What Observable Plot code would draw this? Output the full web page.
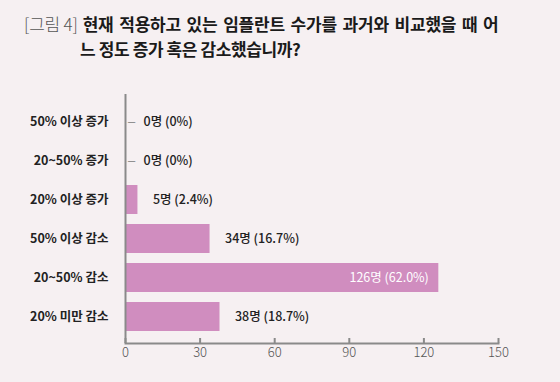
<!DOCTYPE html>
<html><head><meta charset="utf-8">
<script src="https://cdn.jsdelivr.net/npm/d3@7"></script>
<script src="https://cdn.jsdelivr.net/npm/@observablehq/plot@0.6"></script>
<style>
html,body{margin:0;padding:0;background:#f6f0f2;width:560px;height:382px;overflow:hidden;font-family:"Noto Sans CJK KR",sans-serif;}
#title{position:relative;height:70px;}
#t1{position:absolute;left:24px;top:11px;font-size:17px;font-weight:700;color:#1a1a1a;letter-spacing:-0.2px;word-spacing:2px;white-space:nowrap;}
#t1 .fig{font-weight:300;color:#555;margin-right:5px;word-spacing:0;}
#t2{position:absolute;left:80px;top:36px;font-size:17px;font-weight:700;color:#1a1a1a;letter-spacing:-0.4px;white-space:nowrap;}
</style></head>
<body>
<div id="title"><div id="t1"><span class="fig">[그림 4]</span>현재 적용하고 있는 임플란트 수가를 과거와 비교했을 때 어</div><div id="t2">느 정도 증가 혹은 감소했습니까?</div></div>
<div id="chart"></div>
<script>
const categories = ["50% 이상 증가","20~50% 증가","20% 이상 증가","50% 이상 감소","20~50% 감소","20% 미만 감소"];
const counts = [0, 0, 5, 34, 126, 38];
const percents = ["0%","0%","2.4%","16.7%","62.0%","18.7%"];
const xTicks = [0, 30, 60, 90, 120, 150];

const data = categories.map((c,i)=>({cat:c, v:counts[i], label:`${counts[i]}명 (${percents[i]})`}));
const zero = data.filter(d=>d.v===0);
const outside = data.filter(d=>d.v>0 && d.v<100);
const inside = data.filter(d=>d.v>=100);

const chart = Plot.plot({
  width:560, height:312,
  marginLeft:125, marginRight:62, marginTop:24, marginBottom:39,
  style:{background:"transparent", fontFamily:"Noto Sans CJK KR, sans-serif"},
  x:{domain:[0,150]},
  y:{domain:categories, padding:0.26},
  marks:[
    Plot.barX(data,{y:"cat", x:"v", fill:"#d08dbf"}),
    Plot.frame({anchor:"bottom", stroke:"#8a8a8a", strokeWidth:2}),
    Plot.ruleX([0],{stroke:"#8a8a8a", strokeWidth:2}),
    Plot.axisY({tickSize:0, tickPadding:17, fontSize:12.5, fontWeight:600, fill:"#222", label:null}),
    Plot.axisX({ticks:xTicks, tickSize:-5, tickPadding:9, fontSize:13, fill:"#555", fontWeight:300, stroke:"#8a8a8a", strokeWidth:2, label:null}),
    Plot.text(zero,{y:"cat", x:0, text:()=>"—", dx:6, fill:"#8a8a8a", fontSize:9, fontWeight:700}),
    Plot.text(zero,{y:"cat", x:"v", text:"label", dx:18, textAnchor:"start", fontSize:12.5, fontWeight:500, fill:"#222"}),
    Plot.text(outside,{y:"cat", x:"v", text:"label", dx:15, textAnchor:"start", fontSize:12.5, fontWeight:500, fill:"#222"}),
    Plot.text(inside,{y:"cat", x:"v", text:"label", dx:-10, textAnchor:"end", fontSize:12.5, fontWeight:400, fill:"#fff"})
  ]
});
document.getElementById("chart").appendChild(chart);
</script>
</body></html>
